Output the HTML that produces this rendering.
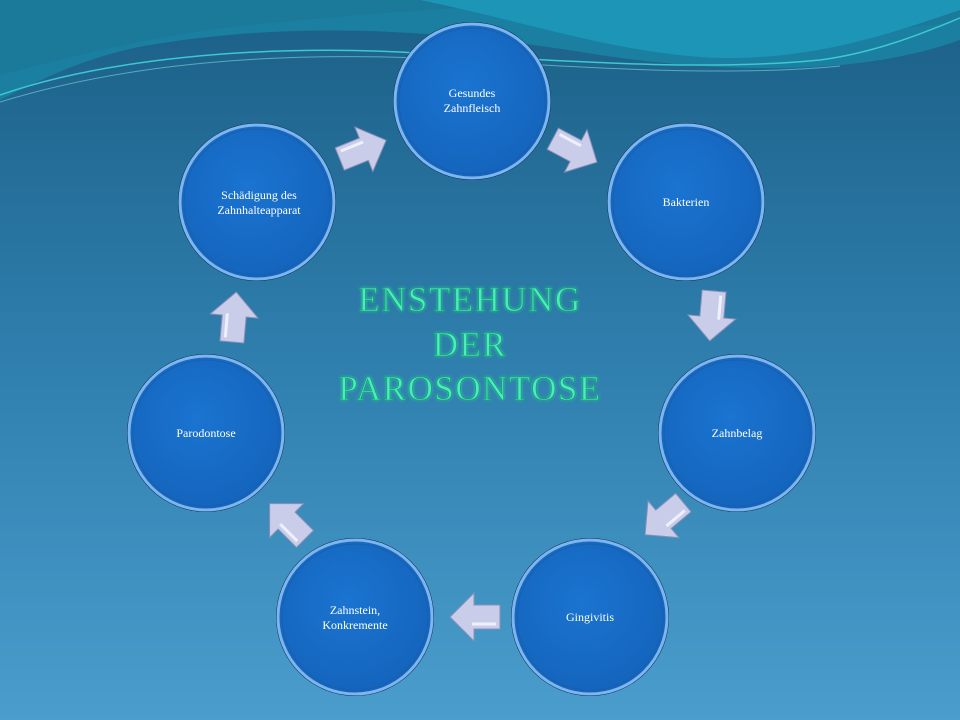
<!DOCTYPE html>
<html><head><meta charset="utf-8"><style>
html,body{margin:0;padding:0;width:960px;height:720px;overflow:hidden}
svg{display:block}
</style></head><body>
<svg width="960" height="720" viewBox="0 0 960 720" xmlns="http://www.w3.org/2000/svg">
<defs>
<linearGradient id="bg" x1="0" y1="0" x2="0" y2="1">
<stop offset="0" stop-color="#1b5f86"/>
<stop offset="0.5" stop-color="#2f7fae"/>
<stop offset="1" stop-color="#4a9dcc"/>
</linearGradient>
<radialGradient id="cg" cx="0.45" cy="0.4" r="0.6">
<stop offset="0" stop-color="#1a74d0"/>
<stop offset="1" stop-color="#1464bc"/>
</radialGradient>
<filter id="glow" x="-10%" y="-30%" width="120%" height="160%">
<feGaussianBlur stdDeviation="1.5" result="b"/>
<feMerge><feMergeNode in="b"/><feMergeNode in="SourceGraphic"/></feMerge>
</filter>
<g id="arr">
<path d="M-24,-12 L2,-12 L2,-24 L26,0 L2,24 L2,12 L-24,12 Z" fill="#c9cdea" stroke="#8a90b8" stroke-width="1"/>
<path d="M-20,-7 L4,-7" stroke="#eef0fb" stroke-width="3"/>
</g>
<g id="circ">
<circle r="79" fill="#0d2d55"/>
<circle r="77" fill="url(#cg)" stroke="#7db5ee" stroke-width="3"/>
<circle r="73" fill="none" stroke="#1a5fae" stroke-width="1"/>
</g>
</defs>
<rect width="960" height="720" fill="url(#bg)"/>
<path d="M0,0 L960,0 L960,40 C850,80 700,70 600,55 C450,30 300,20 150,45 C90,55 40,80 0,100 Z" fill="#1a7fa0"/>
<path d="M0,0 L960,0 L960,20 C860,40 780,25 700,10 C600,-5 400,10 250,25 C150,35 60,60 0,75 Z" fill="#1b7897" opacity="0.8"/>
<path d="M420,0 C520,20 620,55 720,58 C820,60 900,30 960,10 L960,0 Z" fill="#1c95b6"/>
<path d="M0,95 C100,60 250,45 400,52 C550,60 700,72 820,60 C880,52 930,30 960,18" fill="none" stroke="#3ec8d0" stroke-width="1.5"/>
<path d="M0,102 C120,65 260,52 420,58 C560,66 720,78 840,66" fill="none" stroke="#7fd8e0" stroke-width="1" opacity="0.6"/>

<use href="#circ" x="472" y="101"/>
<use href="#circ" x="686" y="202"/>
<use href="#circ" x="737" y="433"/>
<use href="#circ" x="590" y="617"/>
<use href="#circ" x="355" y="617"/>
<use href="#circ" x="206" y="433"/>
<use href="#circ" x="257" y="202"/>

<use href="#arr" transform="translate(362,150) rotate(-22)"/>
<use href="#arr" transform="translate(574,150) rotate(28)"/>
<use href="#arr" transform="translate(712,315) rotate(95)"/>
<use href="#arr" transform="translate(665,518) rotate(140)"/>
<use href="#arr" transform="translate(476,617) rotate(180)"/>
<use href="#arr" transform="translate(288,522) rotate(-135)"/>
<use href="#arr" transform="translate(234,318) rotate(-85)"/>

<g font-family="Liberation Serif, serif" font-size="12" fill="#ffffff" text-anchor="middle">
<text x="472" y="97">Gesundes</text>
<text x="472" y="112">Zahnfleisch</text>
<text x="686" y="206">Bakterien</text>
<text x="737" y="437">Zahnbelag</text>
<text x="590" y="621">Gingivitis</text>
<text x="355" y="614">Zahnstein,</text>
<text x="355" y="629">Konkremente</text>
<text x="206" y="437">Parodontose</text>
<text x="259" y="199">Schädigung des</text>
<text x="259" y="214">Zahnhalteapparat</text>
</g>
<g font-family="Liberation Serif, serif" font-size="35" fill="#46f0b8" text-anchor="middle" letter-spacing="1.5" filter="url(#glow)" stroke="#1a9a80" stroke-width="0.8">
<text x="470" y="311">ENSTEHUNG</text>
<text x="470" y="356">DER</text>
<text x="470" y="400">PAROSONTOSE</text>
</g>
</svg>
</body></html>
